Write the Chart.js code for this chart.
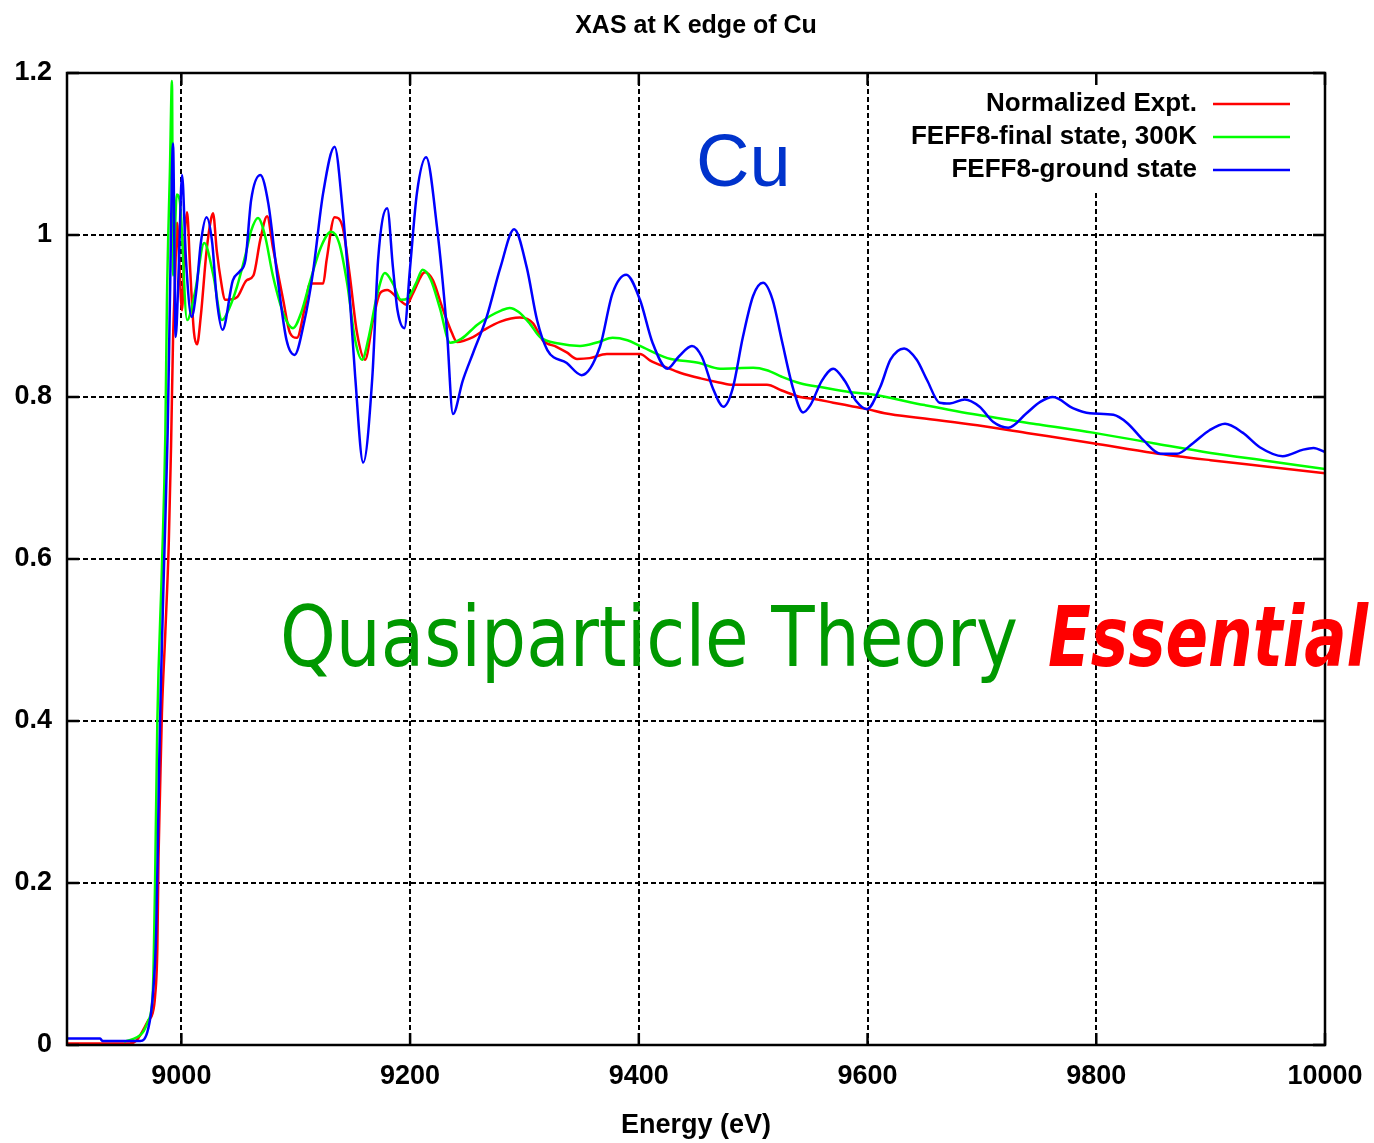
<!DOCTYPE html>
<html>
<head>
<meta charset="utf-8">
<title>XAS at K edge of Cu</title>
<script src="https://cdn.jsdelivr.net/npm/chart.js@4.4.0/dist/chart.umd.min.js"></script>
<style>
	html, body { margin: 0; padding: 0; background: #fff; }
</style>
</head>
<body>
<canvas id="xas-chart" width="1374" height="1143"></canvas>
<script>
"use strict";

/* Cu K-edge absorption: normalized experiment vs. two FEFF8 calculations */

const exptEnergy = [8900, 8955, 8961, 8971, 8975, 8977, 8979, 8980, 8981.3, 8983, 8986, 8989, 8991, 8992.7, 8994.4, 8996.2, 8998, 9000.6, 9003, 9005, 9007.6, 9011, 9013.7, 9017, 9022, 9026, 9027.7, 9031, 9035, 9038, 9040, 9048.6, 9057, 9063, 9069, 9075, 9080, 9089, 9095, 9101, 9108, 9112.5, 9124, 9127, 9134, 9141, 9147, 9153.6, 9160.6, 9167.6, 9173.7, 9180, 9188.5, 9197, 9202.5, 9213, 9220, 9228, 9236.6, 9241, 9255, 9265, 9279, 9296, 9307.5, 9316, 9328, 9337, 9346, 9357, 9372, 9401, 9410, 9425, 9436, 9454, 9470, 9482, 9512, 9525, 9541, 9556, 9570, 9585, 9600, 9615, 9646, 9696, 9742, 9797, 9850, 9900, 9950, 10000];
const exptMu = [0.002, 0.002, 0.006, 0.03, 0.04, 0.06, 0.12, 0.23, 0.31, 0.41, 0.51, 0.62, 0.74, 0.87, 0.94, 1.015, 0.97, 0.907, 1.0, 1.028, 0.96, 0.88, 0.865, 0.9, 0.98, 1.02, 1.027, 0.98, 0.94, 0.92, 0.92, 0.923, 0.944, 0.95, 0.994, 1.023, 0.985, 0.92, 0.879, 0.873, 0.911, 0.94, 0.94, 0.969, 1.022, 1.01, 0.953, 0.879, 0.846, 0.895, 0.928, 0.932, 0.923, 0.914, 0.928, 0.954, 0.944, 0.911, 0.879, 0.868, 0.874, 0.883, 0.893, 0.898, 0.891, 0.87, 0.862, 0.855, 0.847, 0.848, 0.853, 0.853, 0.845, 0.836, 0.83, 0.823, 0.818, 0.815, 0.815, 0.808, 0.8, 0.797, 0.793, 0.789, 0.785, 0.78, 0.774, 0.765, 0.755, 0.743, 0.731, 0.722, 0.714, 0.706];

const finalEnergy = [8950, 8966, 8971, 8975, 8977, 8979, 8983, 8986, 8987.4, 8990, 8991.8, 8992.7, 8996, 8998.8, 9005, 9012, 9020, 9028, 9035.5, 9042, 9048.6, 9056, 9061, 9067, 9073, 9080, 9090, 9097.6, 9105, 9113, 9122, 9131, 9138, 9145, 9152, 9158, 9164, 9171, 9178, 9185, 9192, 9198, 9205, 9211, 9218, 9226, 9235, 9245, 9258.5, 9270, 9280, 9287, 9295, 9305, 9313.6, 9330, 9348.6, 9365, 9377, 9390, 9401, 9425, 9453, 9471, 9500, 9512, 9525, 9541, 9560, 9585, 9600, 9650, 9696, 9750, 9797, 9850, 9900, 9950, 10000];
const finalMu = [0.004, 0.015, 0.03, 0.064, 0.2, 0.4, 0.59, 0.755, 0.92, 1.08, 1.19, 0.95, 1.05, 1.04, 0.895, 0.93, 0.99, 0.95, 0.895, 0.91, 0.936, 0.975, 1.005, 1.021, 1.0, 0.95, 0.9, 0.885, 0.905, 0.945, 0.985, 1.004, 0.99, 0.94, 0.87, 0.846, 0.875, 0.925, 0.953, 0.94, 0.92, 0.922, 0.94, 0.957, 0.945, 0.91, 0.867, 0.872, 0.889, 0.9, 0.907, 0.91, 0.905, 0.89, 0.874, 0.866, 0.863, 0.868, 0.873, 0.87, 0.863, 0.848, 0.842, 0.835, 0.836, 0.833, 0.825, 0.817, 0.812, 0.806, 0.804, 0.79, 0.778, 0.766, 0.756, 0.743, 0.731, 0.721, 0.711];

const groundEnergy = [8900, 8929, 8931, 8964, 8971, 8975, 8978, 8979.6, 8980.5, 8982, 8985, 8988, 8990, 8992.7, 8995, 8997.5, 9000.6, 9004, 9009, 9013, 9017, 9022, 9027, 9031, 9036, 9045, 9051, 9056, 9061, 9069, 9076, 9084, 9092, 9099, 9107, 9115, 9124, 9134, 9141, 9147, 9152, 9159, 9167, 9172, 9180, 9185, 9189, 9195, 9200, 9206, 9214, 9223.5, 9232, 9237.5, 9246, 9255, 9267, 9279, 9291, 9302, 9311, 9320, 9337, 9350, 9366, 9377, 9389, 9401, 9412, 9425, 9435, 9446.5, 9455, 9465, 9474, 9482, 9491, 9500, 9508.6, 9517, 9525, 9535, 9543.6, 9550, 9560, 9570, 9580, 9590, 9599.5, 9611, 9620, 9632, 9643, 9652, 9663, 9672, 9685, 9698, 9710, 9723, 9739, 9751, 9762, 9780, 9794.5, 9815, 9827, 9841, 9856, 9870.6, 9884.6, 9899, 9912.6, 9928, 9943, 9963, 9981, 9990, 10000];
const groundMu = [0.008, 0.008, 0.005, 0.005, 0.02, 0.06, 0.14, 0.26, 0.34, 0.44, 0.6, 0.755, 0.92, 1.113, 0.874, 0.95, 1.074, 0.97, 0.899, 0.93, 0.99, 1.022, 0.99, 0.92, 0.883, 0.944, 0.955, 0.969, 1.043, 1.074, 1.039, 0.948, 0.87, 0.852, 0.89, 0.953, 1.052, 1.109, 1.031, 0.928, 0.825, 0.719, 0.825, 0.969, 1.033, 0.96, 0.907, 0.885, 0.96, 1.052, 1.096, 1.01, 0.886, 0.779, 0.82, 0.854, 0.899, 0.96, 1.007, 0.96, 0.895, 0.858, 0.842, 0.827, 0.862, 0.928, 0.951, 0.92, 0.867, 0.835, 0.85, 0.863, 0.85, 0.81, 0.788, 0.81, 0.874, 0.925, 0.941, 0.92, 0.87, 0.81, 0.781, 0.79, 0.82, 0.835, 0.82, 0.795, 0.785, 0.812, 0.846, 0.86, 0.846, 0.821, 0.793, 0.792, 0.797, 0.788, 0.769, 0.762, 0.78, 0.794, 0.8, 0.786, 0.78, 0.778, 0.768, 0.747, 0.73, 0.73, 0.743, 0.759, 0.767, 0.756, 0.738, 0.727, 0.735, 0.737, 0.732];

const seriesNames = ["Normalized Expt.", "FEFF8-final state, 300K", "FEFF8-ground state"];
const seriesColors = ["#ff0000", "#00ff00", "#0000ff"];

const energyTicks = [9000, 9200, 9400, 9600, 9800, 10000];
const muTicks = [0, 0.2, 0.4, 0.6, 0.8, 1, 1.2];

const sans = "'Liberation Sans', Arial, sans-serif";

function pairs(xs, ys){
	return xs.map((x, i) => ({ x: x, y: ys[i] }));
}

// solid frame with inward tick marks, key and text labels
const framePlugin = {
	id: "frame",
	beforeDatasetsDraw(chart){
		// clear the grid behind the key
		const a = chart.chartArea;
		const c = chart.ctx;
		c.save();
		c.fillStyle = "#fff";
		c.fillRect(a.right - 425, a.top + 2, 423, 115);
		c.restore();
	},
	afterDraw(chart){
		const a = chart.chartArea;
		const c = chart.ctx;
		const xs = chart.scales.x;
		const ys = chart.scales.y;
		c.save();
		c.strokeStyle = "#000";
		c.lineWidth = 2.5;
		c.strokeRect(a.left, a.top, a.right - a.left, a.bottom - a.top);
		c.beginPath();
		energyTicks.forEach(v => {
			const px = xs.getPixelForValue(v);
			c.moveTo(px, a.bottom); c.lineTo(px, a.bottom - 12);
			c.moveTo(px, a.top); c.lineTo(px, a.top + 12);
		});
		muTicks.forEach(v => {
			const py = ys.getPixelForValue(v);
			c.moveTo(a.left, py); c.lineTo(a.left + 12, py);
			c.moveTo(a.right, py); c.lineTo(a.right - 12, py);
		});
		c.stroke();

		// key, top right
		c.font = "bold 26px " + sans;
		c.textAlign = "right";
		c.textBaseline = "middle";
		c.fillStyle = "#000";
		c.lineWidth = 2.5;
		seriesNames.forEach((name, i) => {
			const y = a.top + 31 + i * 33;
			c.fillText(name, a.right - 128, y);
			c.strokeStyle = seriesColors[i];
			c.beginPath();
			c.moveTo(a.right - 112, y);
			c.lineTo(a.right - 35, y);
			c.stroke();
		});

		// annotations
		c.textAlign = "left";
		c.textBaseline = "alphabetic";
		c.font = "74px " + sans;
		c.fillStyle = "#0033cc";
		c.fillText("Cu", 696, 186);

		c.font = "84px 'DejaVu Sans', sans-serif";
		c.fillStyle = "#009900";
		c.fillText("Quasiparticle Theory", 280, 666, 738);
		c.font = "italic bold 84px 'DejaVu Sans', sans-serif";
		c.fillStyle = "#ff0000";
		c.fillText("Essential", 1048, 666, 320);
		c.restore();
	}
};

const ctx = document.querySelector("#xas-chart").getContext("2d");

new Chart(ctx, {
	type: "line",
	data: {
		datasets: [{
			label: seriesNames[0],
			data: pairs(exptEnergy, exptMu),
			borderColor: seriesColors[0],
			order: 3
		}, {
			label: seriesNames[1],
			data: pairs(finalEnergy, finalMu),
			borderColor: seriesColors[1],
			order: 2
		}, {
			label: seriesNames[2],
			data: pairs(groundEnergy, groundMu),
			borderColor: seriesColors[2],
			order: 1
		}]
	},
	options: {
		responsive: false,
		animation: false,
		layout: { padding: { left: 0, right: 49, top: 0, bottom: 0 } },
		elements: {
			point: { radius: 0 },
			line: { borderWidth: 2.5, cubicInterpolationMode: "monotone", fill: false }
		},
		plugins: {
			legend: { display: false },
			tooltip: { enabled: false },
			title: {
				display: true,
				fullSize: false,
				text: "XAS at K edge of Cu",
				color: "#000",
				font: { family: sans, size: 25, weight: "bold", lineHeight: 1.2 },
				padding: { top: 11, bottom: 32 }
			}
		},
		scales: {
			x: {
				type: "linear",
				min: 8900,
				max: 10000,
				afterBuildTicks: scale => { scale.ticks = energyTicks.map(v => ({ value: v })); },
				afterFit: scale => {
					scale.height = 98;
					scale.paddingLeft = 0;
					scale.paddingRight = 0;
				},
				ticks: {
					color: "#000",
					font: { family: sans, size: 27, weight: "bold" },
					padding: 15,
					maxRotation: 0,
					callback: v => String(v)
				},
				grid: { color: "#000", lineWidth: 2, drawTicks: false },
				border: { display: false, dash: [5, 3] },
				title: {
					display: true,
					text: "Energy (eV)",
					color: "#000",
					font: { family: sans, size: 27, weight: "bold", lineHeight: 1.2 },
					padding: { top: 0, bottom: 1 }
				}
			},
			y: {
				min: 0,
				max: 1.2,
				afterBuildTicks: scale => { scale.ticks = muTicks.map(v => ({ value: v })); },
				afterFit: scale => {
					scale.width = 67;
					scale.paddingTop = 0;
					scale.paddingBottom = 0;
				},
				ticks: {
					color: "#000",
					font: { family: sans, size: 27, weight: "bold" },
					padding: 15,
					callback: v => String(v)
				},
				grid: { color: "#000", lineWidth: 2, drawTicks: false },
				border: { display: false, dash: [5, 3] }
			}
		}
	},
	plugins: [framePlugin]
});
</script>
</body>
</html>
